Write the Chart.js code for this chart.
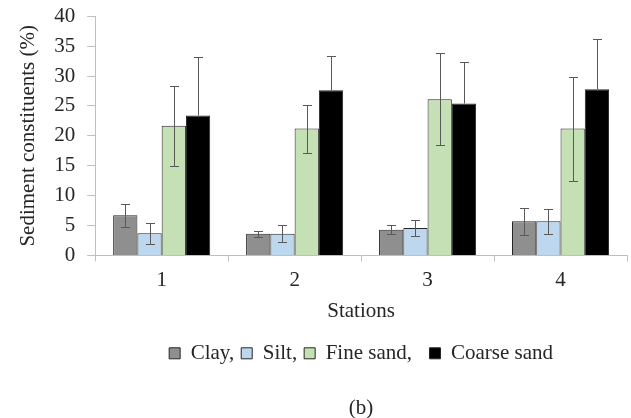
<!DOCTYPE html>
<html>
<head>
<meta charset="utf-8">
<script src="https://cdn.jsdelivr.net/npm/chart.js@4/dist/chart.umd.min.js"></script>
<style>
html,body{margin:0;padding:0;background:#fff;}
#wrap{width:631px;height:418px;position:relative;}
</style>
</head>
<body>
<div id="wrap"><canvas id="c" width="631" height="418"></canvas></div>
<script>
const stations = ["1", "2", "3", "4"];
const seriesNames = ["Clay,", "Silt,", "Fine sand,", "Coarse sand"];
const clay = [6.7, 3.6, 4.3, 5.7];
const silt = [3.7, 3.6, 4.6, 5.7];
const fineSand = [21.7, 21.2, 26.1, 21.2];
const coarseSand = [23.4, 27.6, 25.4, 27.8];
const clayErr = [1.9, 0.55, 0.8, 2.3];
const siltErr = [1.8, 1.4, 1.4, 2.1];
const fineSandErr = [6.7, 4.0, 7.7, 8.7];
const coarseSandErr = [9.8, 5.8, 7.0, 8.4];
const yTicks = [0, 5, 10, 15, 20, 25, 30, 35, 40];

const FONT = "'Liberation Serif', 'Times New Roman', serif";
const FS = 21;
const colors = ["#8f8f8f", "#bdd7ee", "#c5e0b4", "#000000"];
const values = [clay, silt, fineSand, coarseSand];
const errs = [clayErr, siltErr, fineSandErr, coarseSandErr];

const errorBarPlugin = {
  id: 'errorBars',
  afterDatasetsDraw(chart) {
    const ctx = chart.ctx;
    const ys = chart.scales.y;
    ctx.save();
    ctx.lineWidth = 1;
    chart.data.datasets.forEach((ds, di) => {
      const meta = chart.getDatasetMeta(di);
      const darkFill = ds.backgroundColor === '#000000';
      meta.data.forEach((bar, i) => {
        const v = ds.data[i], e = ds.errors[i];
        const x = Math.round(bar.x) + 0.5;
        const y0 = ys.getPixelForValue(v);
        const yt = Math.round(ys.getPixelForValue(v + e)) + 0.5;
        const yb = Math.round(ys.getPixelForValue(v - e)) + 0.5;
        ctx.strokeStyle = '#595959';
        ctx.beginPath();
        ctx.moveTo(x, yt); ctx.lineTo(x, darkFill ? y0 : yb);
        ctx.moveTo(x - 4.5, yt); ctx.lineTo(x + 4.5, yt);
        if (!darkFill) { ctx.moveTo(x - 4.5, yb); ctx.lineTo(x + 4.5, yb); }
        ctx.stroke();
      });
    });
    ctx.restore();
  }
};

new Chart(document.getElementById('c'), {
  type: 'bar',
  data: {
    labels: stations,
    datasets: seriesNames.map((n, k) => ({
      label: n,
      data: values[k],
      errors: errs[k],
      backgroundColor: colors[k],
      borderColor: '#262626',
      borderWidth: 1,
      barPercentage: 1.0,
      categoryPercentage: 0.73
    }))
  },
  options: {
    responsive: false,
    animation: false,
    devicePixelRatio: 1,
    layout: { padding: { top: 0, right: 4, left: 16, bottom: -3 } },
    plugins: {
      tooltip: { enabled: false },
      legend: {
        position: 'bottom',
        fullSize: false,
        labels: {
          font: { family: FONT, size: FS },
          color: '#262626',
          boxWidth: 11,
          boxHeight: 11,
          padding: 7,
          useBorderRadius: false,
          generateLabels(chart) {
            const items = Chart.defaults.plugins.legend.labels.generateLabels(chart);
            items.forEach((it, i) => { if (i === 2) it.text = it.text + '  '; });
            return items;
          }
        }
      },
      title: {
        display: true,
        position: 'bottom',
        fullSize: false,
        text: '(b)',
        font: { family: FONT, size: FS, weight: 'normal' },
        color: '#262626',
        padding: { top: 22, bottom: 0 }
      }
    },
    scales: {
      x: {
        grid: { display: true, drawOnChartArea: false, drawTicks: true, tickLength: 6, color: '#bfbfbf', offset: true },
        border: { color: '#bfbfbf' },
        ticks: { font: { family: FONT, size: FS }, color: '#262626', padding: 6 },
        title: { display: true, text: 'Stations', font: { family: FONT, size: FS }, color: '#262626', padding: { top: 0, bottom: 12 } }
      },
      y: {
        min: 0, max: 40,
        afterBuildTicks(axis) { axis.ticks = yTicks.map(v => ({ value: v })); },
        grid: { display: true, drawOnChartArea: false, drawTicks: true, tickLength: 8, color: '#bfbfbf' },
        border: { color: '#bfbfbf' },
        ticks: { font: { family: FONT, size: FS, lineHeight: 0.4 }, color: '#262626', padding: 12 },
        title: { display: true, text: 'Sediment constituents (%)', font: { family: FONT, size: FS }, color: '#262626', padding: { top: 0, bottom: 1 } }
      }
    }
  },
  plugins: [errorBarPlugin]
});
</script>
</body>
</html>
